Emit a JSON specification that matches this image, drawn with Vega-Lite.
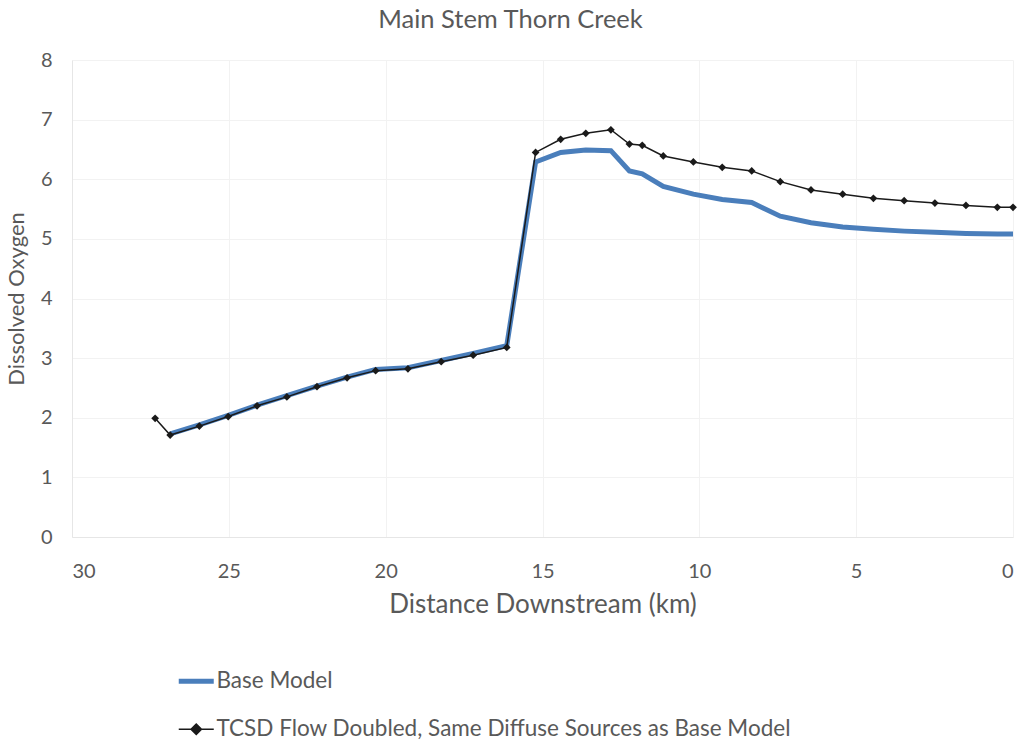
{
  "$schema": "https://vega.github.io/schema/vega-lite/v6.json",
  "width": 941,
  "height": 477,
  "autosize": "none",
  "padding": {"left": 72, "top": 60, "right": 11, "bottom": 206},
  "background": "white",
  "title": {"text": "Main Stem Thorn Creek", "fontSize": 25.5, "font": "Lato", "fontWeight": "normal", "color": "#595959", "anchor": "middle", "dx": -32, "offset": 17},
  "config": {
    "font": "Lato",
    "view": {"stroke": null},
    "axis": {"labelFont": "Lato", "titleFont": "Lato", "labelColor": "#595959", "titleColor": "#595959", "titleFontWeight": "normal", "gridColor": "#f2f2f2", "domainColor": "#e6e6e6", "ticks": false}
  },
  "data": {"values": [
    {"series": "TCSD Flow Doubled, Same Diffuse Sources as Base Model", "km": 27.35, "do": 1.99},
    {"series": "TCSD Flow Doubled, Same Diffuse Sources as Base Model", "km": 26.87, "do": 1.71},
    {"series": "TCSD Flow Doubled, Same Diffuse Sources as Base Model", "km": 25.94, "do": 1.86},
    {"series": "TCSD Flow Doubled, Same Diffuse Sources as Base Model", "km": 25.02, "do": 2.02},
    {"series": "TCSD Flow Doubled, Same Diffuse Sources as Base Model", "km": 24.1, "do": 2.2},
    {"series": "TCSD Flow Doubled, Same Diffuse Sources as Base Model", "km": 23.15, "do": 2.35},
    {"series": "TCSD Flow Doubled, Same Diffuse Sources as Base Model", "km": 22.19, "do": 2.52},
    {"series": "TCSD Flow Doubled, Same Diffuse Sources as Base Model", "km": 21.23, "do": 2.67},
    {"series": "TCSD Flow Doubled, Same Diffuse Sources as Base Model", "km": 20.32, "do": 2.79},
    {"series": "TCSD Flow Doubled, Same Diffuse Sources as Base Model", "km": 19.29, "do": 2.82},
    {"series": "TCSD Flow Doubled, Same Diffuse Sources as Base Model", "km": 18.23, "do": 2.94},
    {"series": "TCSD Flow Doubled, Same Diffuse Sources as Base Model", "km": 17.21, "do": 3.05},
    {"series": "TCSD Flow Doubled, Same Diffuse Sources as Base Model", "km": 16.14, "do": 3.18},
    {"series": "TCSD Flow Doubled, Same Diffuse Sources as Base Model", "km": 15.22, "do": 6.45},
    {"series": "TCSD Flow Doubled, Same Diffuse Sources as Base Model", "km": 14.42, "do": 6.67},
    {"series": "TCSD Flow Doubled, Same Diffuse Sources as Base Model", "km": 13.62, "do": 6.77},
    {"series": "TCSD Flow Doubled, Same Diffuse Sources as Base Model", "km": 12.82, "do": 6.83},
    {"series": "TCSD Flow Doubled, Same Diffuse Sources as Base Model", "km": 12.23, "do": 6.59},
    {"series": "TCSD Flow Doubled, Same Diffuse Sources as Base Model", "km": 11.82, "do": 6.57},
    {"series": "TCSD Flow Doubled, Same Diffuse Sources as Base Model", "km": 11.15, "do": 6.39},
    {"series": "TCSD Flow Doubled, Same Diffuse Sources as Base Model", "km": 10.19, "do": 6.29},
    {"series": "TCSD Flow Doubled, Same Diffuse Sources as Base Model", "km": 9.27, "do": 6.2},
    {"series": "TCSD Flow Doubled, Same Diffuse Sources as Base Model", "km": 8.33, "do": 6.14},
    {"series": "TCSD Flow Doubled, Same Diffuse Sources as Base Model", "km": 7.42, "do": 5.96},
    {"series": "TCSD Flow Doubled, Same Diffuse Sources as Base Model", "km": 6.44, "do": 5.82},
    {"series": "TCSD Flow Doubled, Same Diffuse Sources as Base Model", "km": 5.43, "do": 5.75},
    {"series": "TCSD Flow Doubled, Same Diffuse Sources as Base Model", "km": 4.45, "do": 5.68},
    {"series": "TCSD Flow Doubled, Same Diffuse Sources as Base Model", "km": 3.47, "do": 5.64},
    {"series": "TCSD Flow Doubled, Same Diffuse Sources as Base Model", "km": 2.49, "do": 5.6},
    {"series": "TCSD Flow Doubled, Same Diffuse Sources as Base Model", "km": 1.5, "do": 5.56},
    {"series": "TCSD Flow Doubled, Same Diffuse Sources as Base Model", "km": 0.5, "do": 5.53},
    {"series": "TCSD Flow Doubled, Same Diffuse Sources as Base Model", "km": 0.0, "do": 5.53},
    {"series": "Base Model", "km": 26.87, "do": 1.73},
    {"series": "Base Model", "km": 25.94, "do": 1.88},
    {"series": "Base Model", "km": 25.02, "do": 2.04},
    {"series": "Base Model", "km": 24.1, "do": 2.21},
    {"series": "Base Model", "km": 23.15, "do": 2.37},
    {"series": "Base Model", "km": 22.19, "do": 2.53},
    {"series": "Base Model", "km": 21.23, "do": 2.68},
    {"series": "Base Model", "km": 20.32, "do": 2.81},
    {"series": "Base Model", "km": 19.29, "do": 2.84},
    {"series": "Base Model", "km": 18.23, "do": 2.96},
    {"series": "Base Model", "km": 17.21, "do": 3.08},
    {"series": "Base Model", "km": 16.14, "do": 3.21},
    {"series": "Base Model", "km": 15.22, "do": 6.29},
    {"series": "Base Model", "km": 14.42, "do": 6.45},
    {"series": "Base Model", "km": 13.62, "do": 6.49},
    {"series": "Base Model", "km": 12.82, "do": 6.48},
    {"series": "Base Model", "km": 12.23, "do": 6.14},
    {"series": "Base Model", "km": 11.82, "do": 6.09},
    {"series": "Base Model", "km": 11.15, "do": 5.88},
    {"series": "Base Model", "km": 10.19, "do": 5.75},
    {"series": "Base Model", "km": 9.27, "do": 5.66},
    {"series": "Base Model", "km": 8.33, "do": 5.61},
    {"series": "Base Model", "km": 7.42, "do": 5.38},
    {"series": "Base Model", "km": 6.44, "do": 5.27},
    {"series": "Base Model", "km": 5.43, "do": 5.2},
    {"series": "Base Model", "km": 4.45, "do": 5.16},
    {"series": "Base Model", "km": 3.47, "do": 5.13},
    {"series": "Base Model", "km": 2.49, "do": 5.11},
    {"series": "Base Model", "km": 1.5, "do": 5.09},
    {"series": "Base Model", "km": 0.5, "do": 5.08},
    {"series": "Base Model", "km": 0.0, "do": 5.08}
  ]},
  "encoding": {
    "x": {"field": "km", "type": "quantitative", "scale": {"domain": [0, 30], "reverse": true, "nice": false},
      "axis": {"title": "Distance Downstream (km)", "values": [0, 5, 10, 15, 20, 25, 30], "labelFontSize": 20, "titleFontSize": 26, "labelPadding": 24, "titlePadding": 10, "grid": true}},
    "y": {"field": "do", "type": "quantitative", "scale": {"domain": [0, 8], "nice": false},
      "axis": {"title": "Dissolved Oxygen", "values": [0, 1, 2, 3, 4, 5, 6, 7, 8], "labelFontSize": 20, "titleFontSize": 22, "labelPadding": 20, "titlePadding": 12, "grid": true}}
  },
  "layer": [
    {
      "transform": [{"filter": "datum.series === 'Base Model'"}],
      "mark": {"type": "line", "strokeWidth": 5},
      "encoding": {
        "color": {"field": "series", "type": "nominal",
          "scale": {"domain": ["Base Model", "TCSD Flow Doubled, Same Diffuse Sources as Base Model"], "range": ["#4a7ebb", "#1a1a1a"]},
          "legend": {"title": null, "orient": "none", "legendX": 113, "legendY": 610, "direction": "vertical",
            "symbolSize": 1225, "labelFontSize": 22.5, "labelFont": "Lato", "labelColor": "#595959", "labelOffset": 9, "labelLimit": 0, "rowPadding": 25,
            "encode": {"symbols": {"update": {
              "shape": {"signal": "datum.value === 'Base Model' ? 'M-1,0L1,0' : 'M-1,0L1,0M-0.3,0L0,-0.3L0.3,0L0,0.3Z'"},
              "size": {"value": 1225},
              "strokeWidth": {"signal": "datum.value === 'Base Model' ? 5 : 1.5"},
              "fill": {"signal": "datum.value === 'Base Model' ? 'transparent' : '#1a1a1a'"},
              "fillOpacity": {"value": 1},
              "opacity": {"value": 1}
            }}}
          }}
      }
    },
    {
      "transform": [{"filter": "datum.series !== 'Base Model'"}],
      "mark": {"type": "line", "strokeWidth": 1.5},
      "encoding": {
        "color": {"field": "series", "type": "nominal"}
      }
    },
    {
      "transform": [{"filter": "datum.series !== 'Base Model'"}],
      "mark": {"type": "point", "shape": "diamond", "filled": true, "size": 60, "color": "#1a1a1a", "opacity": 1}
    }
  ]
}
